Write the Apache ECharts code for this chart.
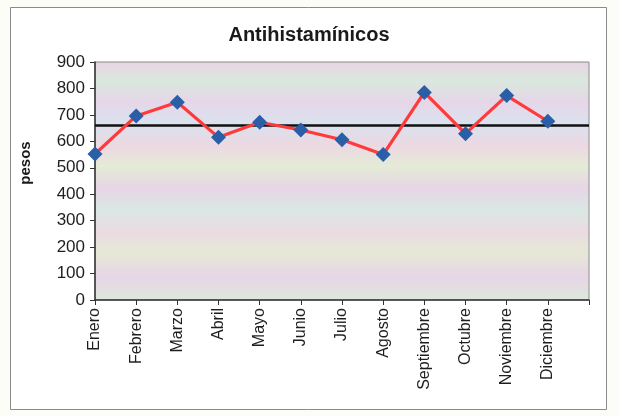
<!DOCTYPE html>
<html>
<head>
<meta charset="utf-8">
<script src="https://cdn.jsdelivr.net/npm/echarts@6/dist/echarts.min.js"></script>
<style>
html,body{margin:0;padding:0;background:#fdfdf8;}
#c{width:618px;height:416px;}
</style>
</head>
<body>
<div id="c"></div>
<script>
const titleText = 'Antihistamínicos';
const yAxisName = 'pesos';
const months = ['Enero','Febrero','Marzo','Abril','Mayo','Junio','Julio','Agosto','Septiembre','Octubre','Noviembre','Diciembre',''];
const values = [552, 696, 748, 615, 672, 643, 606, 550, 785, 629, 773, 676];
const yTicks = {min: 0, max: 900, interval: 100};

const chart = echarts.init(document.getElementById('c'), null, {renderer: 'canvas'});
const font = 'Liberation Sans, Arial, sans-serif';

chart.setOption({
  backgroundColor: '#fdfdf8',
  animation: false,
  title: {
    text: titleText,
    left: 'center',
    top: 20,
    textStyle: {fontFamily: font, fontSize: 20, fontWeight: 'bold', color: '#1a1a1a'}
  },
  graphic: [{
    type: 'rect', z: -1,
    shape: {x: 10.5, y: 7.5, width: 596, height: 402},
    style: {fill: '#ffffff', stroke: '#8a8a8a', lineWidth: 1}
  }, {
    type: 'text',
    x: 26, y: 163,
    rotation: Math.PI / 2,
    style: {
      text: yAxisName,
      fontFamily: font, fontSize: 15, fontWeight: 'bold', fill: '#1a1a1a',
      align: 'center', verticalAlign: 'middle'
    }
  }],
  grid: {
    left: 95, right: 29, top: 62, bottom: 116,
    show: true,
    borderColor: '#8a8a8a', borderWidth: 1,
    backgroundColor: {
      type: 'linear', x: 0, y: 0, x2: 0, y2: 1,
      colorStops: [
        {offset: 0.00, color: '#e8d4e4'},
        {offset: 0.08, color: '#d9e8de'},
        {offset: 0.17, color: '#e6d6e8'},
        {offset: 0.26, color: '#dae2ee'},
        {offset: 0.35, color: '#ecd8e2'},
        {offset: 0.44, color: '#e4ebd6'},
        {offset: 0.53, color: '#e7d5e6'},
        {offset: 0.62, color: '#dae8e4'},
        {offset: 0.71, color: '#eadbe2'},
        {offset: 0.80, color: '#e6e8d6'},
        {offset: 0.90, color: '#e6d6e6'},
        {offset: 1.00, color: '#dde8dc'}
      ]
    }
  },
  xAxis: {
    type: 'category',
    data: months,
    boundaryGap: false,
    axisLine: {lineStyle: {color: '#333', width: 1.5}},
    axisTick: {show: true, length: 5, lineStyle: {color: '#333'}, alignWithLabel: true},
    axisLabel: {rotate: 90, interval: 0, fontFamily: font, fontSize: 16, color: '#1e1e1e', margin: 8},
    splitLine: {show: false}
  },
  yAxis: {
    type: 'value',
    min: yTicks.min, max: yTicks.max, interval: yTicks.interval,
    axisLine: {show: true, lineStyle: {color: '#333', width: 1.5}},
    axisTick: {show: true, length: 5, lineStyle: {color: '#333'}},
    axisLabel: {fontFamily: font, fontSize: 17, color: '#1e1e1e', margin: 10},
    splitLine: {show: false}
  },
  series: [{
    type: 'line',
    data: values,
    symbol: 'diamond',
    symbolSize: 15,
    lineStyle: {color: '#ff3a3a', width: 3.2},
    itemStyle: {color: '#2a5ea6'},
    z: 3,
    markLine: {
      silent: true,
      symbol: 'none',
      label: {show: false},
      lineStyle: {color: '#111', width: 2.5, type: 'solid'},
      data: [{type: 'average'}],
      z: 2
    }
  }]
});
</script>
</body>
</html>
